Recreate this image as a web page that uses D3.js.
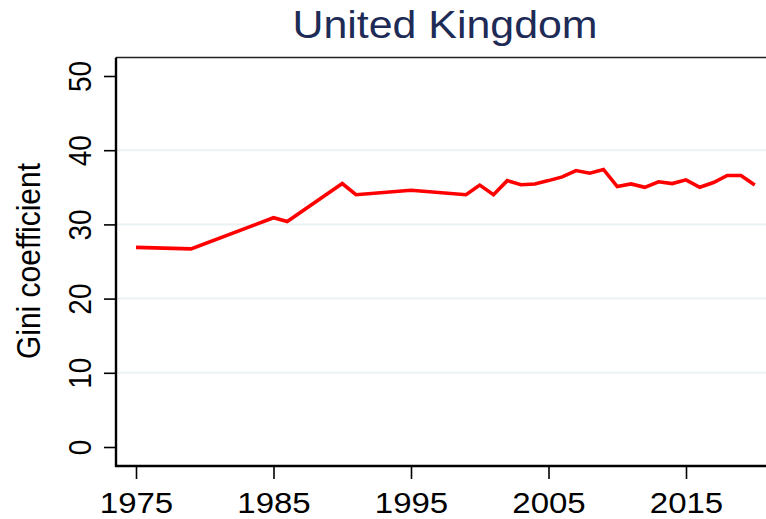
<!DOCTYPE html>
<html>
<head>
<meta charset="utf-8">
<script src="https://cdn.jsdelivr.net/npm/d3@7"></script>
<style>
  body { margin: 0; background: #fff; }
  svg { display: block; font-family: "Liberation Sans", Arial, sans-serif; }
</style>
</head>
<body>
<div id="chart"></div>
<script>
// data
var years = [1975, 1979, 1985, 1986, 1990, 1991, 1995, 1999, 2000, 2001, 2002, 2003, 2004, 2005,
             2006, 2007, 2008, 2009, 2010, 2011, 2012, 2013, 2014, 2015, 2016, 2017, 2018, 2019, 2020];
var gini = [26.9, 26.7, 30.9, 30.4, 35.5, 34.0, 34.6, 34.0, 35.3, 34.0, 35.9, 35.35, 35.45, 35.9,
            36.4, 37.25, 36.9, 37.4, 35.1, 35.45, 35.0, 35.75, 35.5, 36.0, 35.0, 35.65, 36.6, 36.6, 35.3];
var xTicks = [1975, 1985, 1995, 2005, 2015];
var yTicks = [0, 10, 20, 30, 40, 50];
var title = "United Kingdom";
var yTitle = "Gini coefficient";

var W = 766, H = 519;
var plot = {left: 116, right: 766, top: 57.5, bottom: 466};
var stretch = 1.1; // the original text is a little wide

var svg = d3.select("#chart").append("svg")
    .attr("width", W)
    .attr("height", H);

// scales
var x = d3.scaleLinear().domain([1975, 2015]).range([136, 686]);
var y = d3.scaleLinear().domain([0, 50]).range([447, 76]);

// gridlines
svg.append("g").selectAll("line")
    .data(yTicks.filter(function(d){ return d > 0 && d < 50; }))
    .enter().append("line")
    .attr("x1", plot.left).attr("x2", plot.right)
    .attr("y1", function(d){ return y(d); })
    .attr("y2", function(d){ return y(d); })
    .attr("stroke", "#eaf2f3")
    .attr("stroke-width", 2);

// top border
svg.append("line")
    .attr("x1", plot.left).attr("x2", plot.right)
    .attr("y1", plot.top).attr("y2", plot.top)
    .attr("stroke", "#222").attr("stroke-width", 1.6);

// the line
var line = d3.line()
    .x(function(d){ return x(d[0]); })
    .y(function(d){ return y(d[1]); });

svg.append("path")
    .datum(d3.zip(years, gini))
    .attr("fill", "none")
    .attr("stroke", "#ff0000")
    .attr("stroke-width", 3.6)
    .attr("d", line);

// y axis
var yAxis = svg.append("g")
    .attr("transform", "translate(" + plot.left + ",0)")
    .call(d3.axisLeft(y).tickValues(yTicks).tickSize(12).tickPadding(0).tickFormat(d3.format("d")));
yAxis.select(".domain").remove();
yAxis.selectAll(".tick line").attr("stroke", "#000").attr("stroke-width", 1.6);
yAxis.selectAll(".tick text")
    .attr("x", null).attr("dy", null)
    .attr("transform", "translate(-25,0) scale(" + stretch + ",1) rotate(-90)")
    .attr("text-anchor", "middle")
    .attr("fill", "#000")
    .style("font-size", "28px");
svg.append("line")
    .attr("x1", plot.left).attr("x2", plot.left)
    .attr("y1", plot.top).attr("y2", plot.bottom + 1)
    .attr("stroke", "#000").attr("stroke-width", 2.4);

// x axis
var xAxis = svg.append("g")
    .attr("transform", "translate(0," + plot.bottom + ")")
    .call(d3.axisBottom(x).tickValues(xTicks).tickSize(13).tickFormat(d3.format("d")));
xAxis.select(".domain").remove();
xAxis.selectAll(".tick line").attr("stroke", "#000").attr("stroke-width", 1.6);
xAxis.selectAll(".tick text")
    .attr("y", null).attr("dy", null)
    .attr("transform", "translate(0,47) scale(" + stretch + ",1)")
    .attr("fill", "#000")
    .style("font-size", "30px");
svg.append("line")
    .attr("x1", plot.left - 1).attr("x2", plot.right)
    .attr("y1", plot.bottom).attr("y2", plot.bottom)
    .attr("stroke", "#000").attr("stroke-width", 2.4);

// titles
svg.append("text")
    .attr("transform", "translate(445,38) scale(" + stretch + ",1)")
    .attr("text-anchor", "middle")
    .attr("fill", "#1d2b56")
    .style("font-size", "39px")
    .text(title);

svg.append("text")
    .attr("transform", "translate(40,261) scale(" + stretch + ",1) rotate(-90)")
    .attr("text-anchor", "middle")
    .attr("fill", "#000")
    .style("font-size", "30px")
    .text(yTitle);
</script>
</body>
</html>
